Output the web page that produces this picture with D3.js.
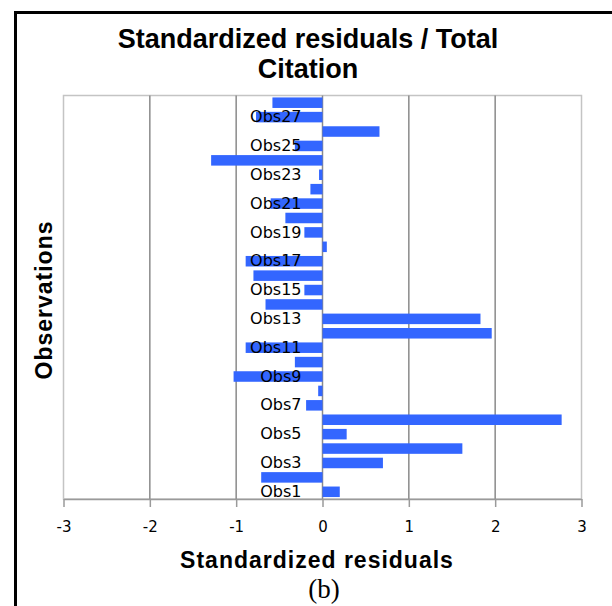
<!DOCTYPE html>
<html>
<head>
<meta charset="utf-8">
<script src="https://cdn.jsdelivr.net/npm/d3@7"></script>
<style>
  html, body { margin: 0; padding: 0; background: #fff; }
  svg { display: block; }
</style>
</head>
<body>
<svg id="chart" width="612" height="606"></svg>
<script>
// Standardized residuals per observation (Obs1 .. Obs28)
const observations = d3.range(1, 29).map(i => "Obs" + i);
const residuals = [
   0.20, -0.71,  0.70,  1.62,  0.28,  2.77, -0.19, -0.05, -1.03, -0.32,
  -0.89,  1.96,  1.83, -0.66, -0.21, -0.80, -0.89,  0.05, -0.21, -0.43,
  -0.60, -0.14, -0.04, -1.29, -0.32,  0.66, -0.77, -0.58
];
const xTicks = [-3, -2, -1, 0, 1, 2, 3];
const labelledObs = observations.filter((d, i) => i % 2 === 0);

const titleLines = ["Standardized residuals / Total", "Citation"];
const xTitle = "Standardized residuals";
const yTitle = "Observations";
const caption = "(b)";

const svg = d3.select("#chart");

// outer chart frame
svg.append("rect")
  .attr("x", 15.5).attr("y", 12.5)
  .attr("width", 640).attr("height", 640)
  .attr("fill", "none").attr("stroke", "#000").attr("stroke-width", 3);

const plot = { left: 63.5, right: 581.5, top: 95.5, bottom: 499 };

const x = d3.scaleLinear().domain([-3, 3]).range([plot.left, plot.right]);
const y = d3.scaleBand()
  .domain(observations)
  .range([plot.bottom, plot.top])
  .paddingInner(0.27)
  .paddingOuter(0.135);

// plot area border
svg.append("rect")
  .attr("x", plot.left).attr("y", plot.top)
  .attr("width", plot.right - plot.left)
  .attr("height", plot.bottom - plot.top)
  .attr("fill", "none").attr("stroke", "#c4c4c4").attr("stroke-width", 1.5);

// vertical gridlines (including the zero line)
svg.append("g")
  .selectAll("line")
  .data(xTicks.filter(t => t > -3 && t < 3))
  .join("line")
  .attr("x1", d => x(d)).attr("x2", d => x(d))
  .attr("y1", plot.top).attr("y2", plot.bottom)
  .attr("stroke", "#8a8a8a").attr("stroke-width", 1.5);

// bars
svg.append("g")
  .selectAll("rect")
  .data(residuals)
  .join("rect")
  .attr("x", d => x(Math.min(0, d)))
  .attr("width", d => Math.abs(x(d) - x(0)))
  .attr("y", (d, i) => y(observations[i]))
  .attr("height", y.bandwidth())
  .attr("fill", "#3366ff");

// bottom value axis
const xAxis = svg.append("g")
  .attr("transform", `translate(0,${plot.bottom})`)
  .call(d3.axisBottom(x).tickValues(xTicks).tickSize(8).tickPadding(14)
    .tickSizeOuter(0).tickFormat(d => String(d)));
xAxis.select(".domain").attr("stroke", "#9a9a9a").attr("stroke-width", 1.5);
xAxis.selectAll(".tick line").attr("stroke", "#9a9a9a").attr("stroke-width", 1.5);
xAxis.selectAll(".tick text")
  .attr("fill", "#000")
  .style("font-family", "'DejaVu Sans', Verdana, sans-serif")
  .style("font-size", "15px");

// category labels along the zero line
const yAxis = svg.append("g")
  .attr("transform", `translate(${x(0)},0)`)
  .call(d3.axisLeft(y).tickValues(labelledObs).tickSize(0).tickPadding(21));
yAxis.select(".domain").remove();
yAxis.selectAll(".tick text")
  .attr("fill", "#000")
  .style("font-family", "'DejaVu Sans', Verdana, sans-serif")
  .style("font-size", "16px");

// titles
svg.append("text")
  .attr("x", 308).attr("y", 48)
  .attr("text-anchor", "middle")
  .style("font-family", "'Liberation Sans', Arial, sans-serif")
  .style("font-weight", "bold").style("font-size", "27px")
  .selectAll("tspan")
  .data(titleLines)
  .join("tspan")
  .attr("x", 308)
  .attr("dy", (d, i) => i === 0 ? 0 : 30)
  .text(d => d);

svg.append("text")
  .attr("x", 317).attr("y", 568)
  .attr("text-anchor", "middle")
  .style("font-family", "'Liberation Sans', Arial, sans-serif")
  .style("font-weight", "bold").style("font-size", "23px")
  .style("letter-spacing", "1px")
  .text(xTitle);

svg.append("text")
  .attr("transform", "translate(52,300) rotate(-90)")
  .attr("text-anchor", "middle")
  .style("font-family", "'Liberation Sans', Arial, sans-serif")
  .style("font-weight", "bold").style("font-size", "23px")
  .style("letter-spacing", "1px")
  .text(yTitle);

svg.append("text")
  .attr("x", 324).attr("y", 598)
  .attr("text-anchor", "middle")
  .style("font-family", "'Liberation Serif', 'Times New Roman', serif")
  .style("font-size", "27px")
  .text(caption);
</script>
</body>
</html>
